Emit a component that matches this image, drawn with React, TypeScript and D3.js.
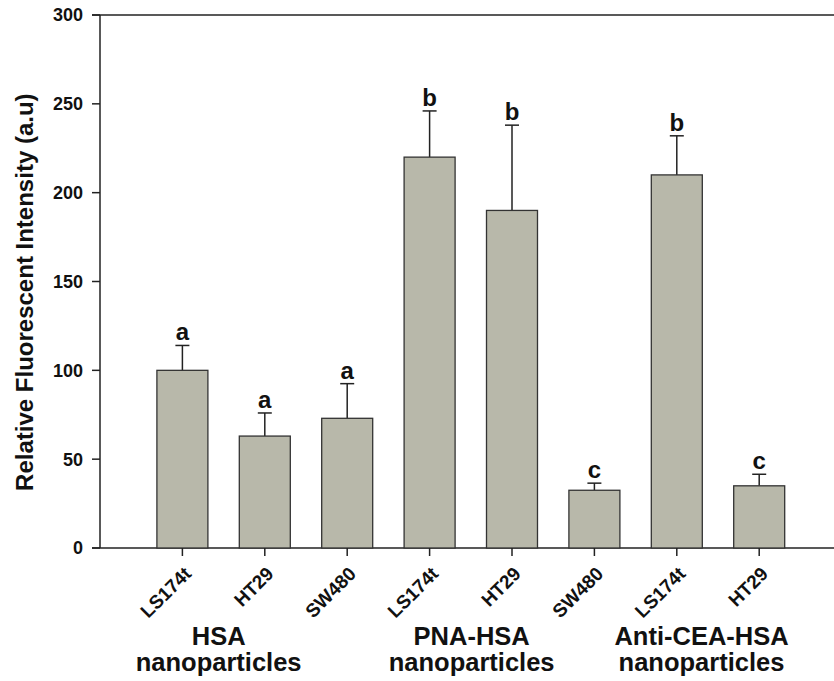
import * as React from "react";
import * as d3 from "d3";

// Chart data
const cellLines = ["LS174t", "HT29", "SW480", "LS174t", "HT29", "SW480", "LS174t", "HT29"];
const intensity = [100, 63, 73, 220, 190, 32.5, 210, 35];
const errorTop = [114, 76, 92.5, 246, 238, 36.5, 232, 41.5];
const letters = ["a", "a", "a", "b", "b", "c", "b", "c"];
const groupNames = ["HSA", "PNA-HSA", "Anti-CEA-HSA"];
const yTicks = [0, 50, 100, 150, 200, 250, 300];

const width = 834;
const height = 681;

export default function App() {
    const margin = { left: 100, top: 15, bottom: 548 };

    let x = d3.scaleLinear().domain([0, 9]).range([margin.left, margin.left + 82.4 * 9]);
    let y = d3.scaleLinear().domain([0, 300]).range([margin.bottom, margin.top]);

    let barWidth = 51;
    let capWidth = 12;
    let fontFamily = "Arial, 'Liberation Sans', Helvetica, sans-serif";
    let barFill = "#b8b8aa";
    let ink = "#222";

    // group label centres, in bar-index units
    let groupAt = [1.44, 4.51, 7.3];

    return (
        <svg width={width} height={height} style={{ position: "absolute", left: 0, top: 0, background: "#fff" }}
            fontFamily={fontFamily} fontWeight="bold">
            {/* frame */}
            <line x1={margin.left - 8} x2={width} y1={y(300)} y2={y(300)} stroke={ink} strokeWidth={1.5} />
            <line x1={margin.left - 8} x2={width} y1={y(0)} y2={y(0)} stroke={ink} strokeWidth={1.5} />
            <line x1={margin.left} x2={margin.left} y1={y(300)} y2={y(0)} stroke={ink} strokeWidth={1.5} />

            {/* y ticks */}
            {yTicks.map(t => (
                <g key={t} transform={`translate(0, ${y(t)})`}>
                    <line x1={margin.left - 8} x2={margin.left} stroke={ink} strokeWidth={1.5} />
                    <text x={margin.left - 17} dy="0.36em" textAnchor="end" fontSize={18} fill="#111">{t}</text>
                </g>
            ))}
            <text transform={`translate(33, ${y(144)}) rotate(-90)`} textAnchor="middle" fontSize={24} fill="#111">
                Relative Fluorescent Intensity (a.u)
            </text>

            {/* bars */}
            {intensity.map((v, i) => {
                let cx = x(i + 1);
                return (
                    <g key={i}>
                        <line x1={cx} x2={cx} y1={y(v)} y2={y(errorTop[i])} stroke={ink} strokeWidth={1.5} />
                        <line x1={cx - capWidth / 2 - 1} x2={cx + capWidth / 2 + 1} y1={y(errorTop[i])} y2={y(errorTop[i])} stroke={ink} strokeWidth={1.5} />
                        <rect x={cx - barWidth / 2} y={y(v)} width={barWidth} height={y(0) - y(v)}
                            fill={barFill} stroke="#333" strokeWidth={1.3} />
                        <text x={cx} y={y(errorTop[i]) - 5} textAnchor="middle" fontSize={24} fill="#111">{letters[i]}</text>
                        <line x1={cx} x2={cx} y1={y(0)} y2={y(0) + 8} stroke={ink} strokeWidth={1.5} />
                        <text transform={`translate(${cx + 10}, ${y(0) + 27}) rotate(-45)`} textAnchor="end"
                            fontSize={19} fill="#111">{cellLines[i]}</text>
                    </g>
                );
            })}

            {/* group labels */}
            {groupNames.map((g, i) => (
                <g key={g} transform={`translate(${x(groupAt[i])}, 0)`}>
                    <text y={645} textAnchor="middle" fontSize={25.5} fill="#111">{g}</text>
                    <text y={671} textAnchor="middle" fontSize={25.5} fill="#111">nanoparticles</text>
                </g>
            ))}
        </svg>
    );
}
